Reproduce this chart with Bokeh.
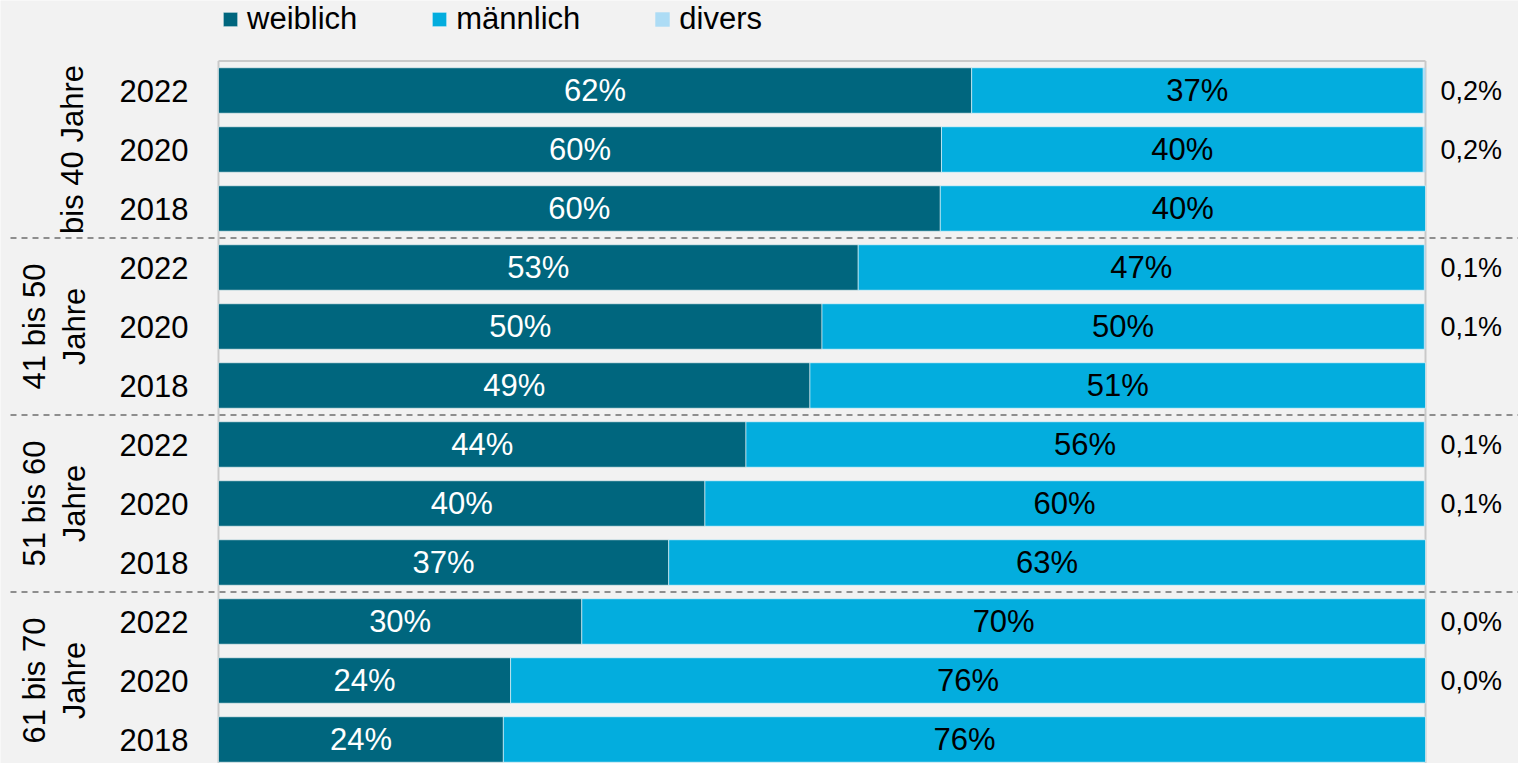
import math
from bokeh.plotting import figure
from bokeh.models import ColumnDataSource, Range1d, Legend, LegendItem
from bokeh.core.properties import value
from bokeh.embed import file_html
from bokeh.resources import INLINE

# ---------------- data ----------------
groups = ["bis 40 Jahre", "41 bis 50\nJahre", "51 bis 60\nJahre", "61 bis 70\nJahre"]
years = ["2022", "2020", "2018"]
weiblich = [62.4, 59.9, 59.8, 53.0, 50.0, 49.0, 43.7, 40.3, 37.3, 30.1, 24.2, 23.6]
maennlich = [37.4, 39.9, 40.2, 46.9, 49.9, 51.0, 56.2, 59.6, 62.7, 69.9, 75.8, 76.4]
divers = [0.2, 0.2, None, 0.1, 0.1, None, 0.1, 0.1, None, 0.0, 0.0, None]
series_names = ["weiblich", "männlich", "divers"]

# ---------------- style ----------------
C_W = "#00667E"
C_M = "#03ADDE"
C_D = "#ADDCF5"
BG = "#F2F2F2"
FONT = "Liberation Sans"
FS = "31px"

W, H = 1518, 763
PX_PER_UNIT = 12.07      # px per percent
X0_PX = 218              # canvas x of 0 %
ROW_PX = 59              # px per row
Y_TOP_ROW_PX = 90        # canvas y of first row centre
BAR_H = 0.77

n = len(weiblich)
x_start = -X0_PX / PX_PER_UNIT
x_end = (W - X0_PX) / PX_PER_UNIT
y_end = (n - 1) + Y_TOP_ROW_PX / ROW_PX
y_start = (n - 1) - (H - Y_TOP_ROW_PX) / ROW_PX

ypos = [n - 1 - i for i in range(n)]
row_year = [years[i % len(years)] for i in range(n)]
m_right = [w + m for w, m in zip(weiblich, maennlich)]

p = figure(width=W, height=H,
           x_range=Range1d(x_start, x_end), y_range=Range1d(y_start, y_end),
           x_axis_location=None, y_axis_location=None,
           output_backend="svg", toolbar_location=None, min_border=0)
p.grid.visible = False
p.outline_line_color = None
p.background_fill_color = BG
p.border_fill_color = BG

# frame lines (top and the two vertical edges)
top = (n - 1) + 0.5
bottom = y_start
p.segment(x0=[0, 100, 0], y0=[top, top, top], x1=[0, 100, 100], y1=[bottom, bottom, top],
          line_color="#C9C9C9", line_width=2, level="underlay")

# group separators
seps = [n - 1 - (3 * g - 0.5) for g in range(1, len(groups))]
p.segment(x0=x_start + 10 / PX_PER_UNIT, y0=seps, x1=x_end, y1=seps,
          line_color="#8E8E8E", line_width=2, line_dash="6 5")

src = ColumnDataSource(dict(
    y=ypos, w=weiblich, m=maennlich, mr=m_right,
    wx=[w / 2 for w in weiblich],
    mx=[w + m / 2 for w, m in zip(weiblich, maennlich)],
    wl=[f"{round(v)}%" for v in weiblich],
    ml=[f"{round(v)}%" for v in maennlich],
    year=row_year,
))

r_w = p.hbar(y="y", left=0, right="w", height=BAR_H, source=src,
             fill_color=C_W, line_color="white", line_alpha=0.55, line_width=1)
r_m = p.hbar(y="y", left="w", right="mr", height=BAR_H, source=src,
             fill_color=C_M, line_color="white", line_alpha=0.55, line_width=1)

d_idx = [i for i, d in enumerate(divers) if d is not None]
dsrc = ColumnDataSource(dict(
    y=[ypos[i] for i in d_idx],
    left=[m_right[i] for i in d_idx],
    right=[m_right[i] + divers[i] for i in d_idx],
    lab=[f"{divers[i]:.1f}".replace(".", ",") + "%" for i in d_idx],
))
r_d = p.hbar(y="y", left="left", right="right", height=BAR_H, source=dsrc,
             fill_color=C_D, line_color=None)

# value labels
p.text(x="wx", y="y", text="wl", source=src, text_color="white",
       text_font=value(FONT), text_font_size=FS, text_align="center", text_baseline="middle")
p.text(x="mx", y="y", text="ml", source=src, text_color="black",
       text_font=value(FONT), text_font_size=FS, text_align="center", text_baseline="middle")
p.text(x=101.24, y="y", text="lab", source=dsrc, text_color="black",
       text_font=value(FONT), text_font_size="27px", text_align="left", text_baseline="middle")

# year labels
p.text(x=-2.49, y="y", text="year", source=src, text_color="black",
       text_font=value(FONT), text_font_size=FS, text_align="right", text_baseline="middle")

# group labels
gsrc = ColumnDataSource(dict(
    x=[-12.07 if "\n" not in g else -13.6 for g in groups],
    y=[n - 1 - (3 * k + 1) for k in range(len(groups))],
    t=groups,
))
p.text(x="x", y="y", text="t", source=gsrc, angle=math.pi / 2, text_color="black",
       text_font=value(FONT), text_font_size=FS, text_align="center", text_baseline="middle",
       text_line_height=1.13)

legend = Legend(items=[LegendItem(label=series_names[0], renderers=[r_w]),
                       LegendItem(label=series_names[1], renderers=[r_m]),
                       LegendItem(label=series_names[2], renderers=[r_d])],
                orientation="horizontal", location=(221, H - 37),
                glyph_width=18, glyph_height=18, label_standoff=8, spacing=73,
                padding=0, margin=0, border_line_color=None, background_fill_alpha=0,
                label_text_font=FONT, label_text_font_size=FS, label_text_color="black")
p.add_layout(legend)

open("out.html", "w").write(file_html(p, INLINE))
